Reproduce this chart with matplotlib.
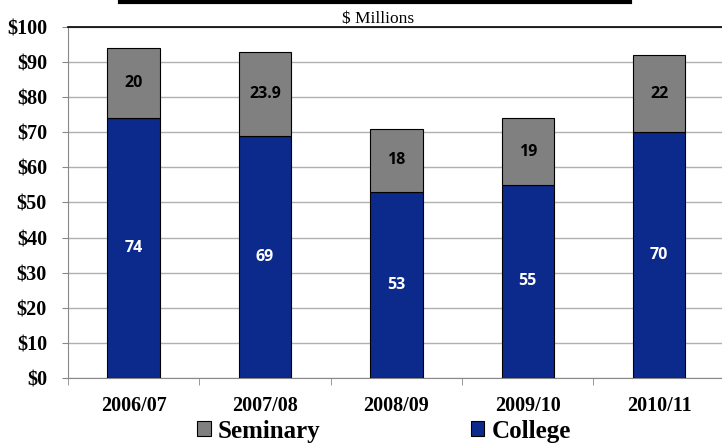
import matplotlib.pyplot as plt
import numpy as np

years = ['2006/07', '2007/08', '2008/09', '2009/10', '2010/11']
college = [74, 69, 53, 55, 70]
seminary = [20, 23.9, 18, 19, 22]
seminary_labels = ['20', '23.9', '18', '19', '22']

blue = '#0C2A8C'
grey = '#808080'
serif = 'Liberation Serif'
sans = 'Open Sans'


def main():
    fig = plt.figure(figsize=(7.22, 4.45), dpi=100)
    ax = fig.add_axes([0.094, 0.151, 0.91, 0.788])

    x = np.arange(len(years))
    w = 0.4
    ax.bar(x, college, w, color=blue, edgecolor='black', linewidth=0.8, zorder=3, label='College')
    ax.bar(x, seminary, w, bottom=college, color=grey, edgecolor='black', linewidth=0.8,
           zorder=3, label='Seminary')

    # values in the middle of each segment
    for i in range(len(years)):
        ax.text(x[i], college[i] / 2, str(college[i]), ha='center', va='center',
                color='white', fontsize=11.5, fontweight='bold', family=sans, zorder=4)
        ax.text(x[i], college[i] + seminary[i] / 2, seminary_labels[i], ha='center', va='center',
                color='black', fontsize=11.5, fontweight='bold', family=sans, zorder=4)

    ax.set_xlim(-0.5, len(years) - 0.5)
    ax.set_ylim(0, 100)
    ax.set_yticks(range(0, 101, 10))
    ax.set_yticklabels(['$%d' % v for v in range(0, 101, 10)], family=serif,
                       fontsize=14.5, fontweight='bold')
    ax.set_xticks(x)
    ax.set_xticklabels(years, family=serif, fontsize=14.5, fontweight='bold')
    ax.set_xticks(np.arange(-0.5, len(years), 1), minor=True)
    ax.tick_params(axis='x', which='major', length=0, pad=13)
    ax.tick_params(axis='x', which='minor', length=5, color='#888888')
    ax.tick_params(axis='y', length=4, color='#888888', pad=11)

    ax.yaxis.grid(True, color='#b0b0b0', linewidth=1)
    ax.set_axisbelow(True)
    ax.spines['right'].set_visible(False)
    ax.spines['left'].set_color('#888888')
    ax.spines['bottom'].set_color('#888888')
    ax.spines['top'].set_color('black')
    ax.spines['top'].set_linewidth(1.2)

    # header rule and units caption
    fig.add_artist(plt.Line2D([0.166, 0.873], [0.995, 0.995], color='black', linewidth=3))
    fig.text(0.523, 0.958, '$ Millions', ha='center', va='center', family=serif, fontsize=12.5)

    handles, labels = ax.get_legend_handles_labels()
    fig.legend(handles[::-1], labels[::-1], loc='lower center', ncol=2,
               bbox_to_anchor=(0.532, -0.045), frameon=False, handlelength=0.55,
               handleheight=0.55, handletextpad=0.3, columnspacing=6,
               prop={'family': serif, 'size': 18, 'weight': 'bold'})

    fig.savefig('out.png', dpi=100)


if __name__ == '__main__':
    main()
